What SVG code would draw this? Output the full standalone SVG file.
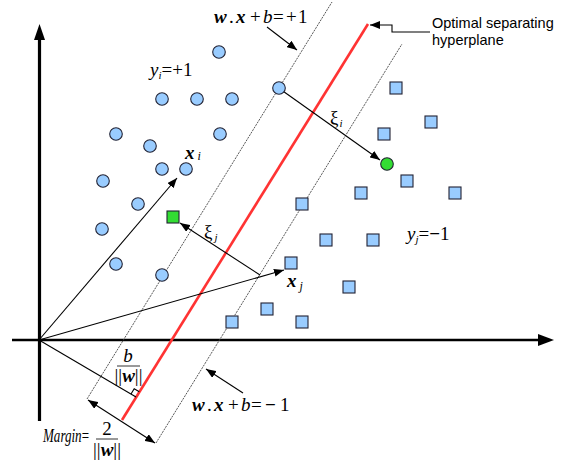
<svg xmlns="http://www.w3.org/2000/svg" width="570" height="461" viewBox="0 0 570 461">
<style>
.pt{fill:#99ccff;stroke:#223;stroke-width:1.1}
.grn{fill:#33dd33;stroke:#223;stroke-width:1.1}
.axis{stroke:#000;fill:none}
.dot{stroke:#444;stroke-width:0.9;stroke-dasharray:2 1;fill:none}
.arr{stroke:#000;stroke-width:1.1;fill:none}
.m{font-family:"Liberation Serif","Times New Roman",serif;font-size:19px;fill:#000}
.s{font-family:"Liberation Sans",Arial,sans-serif;font-size:14.5px;fill:#000}
.bi{font-weight:bold;font-style:italic}
.it{font-style:italic}
</style>
<defs>
<marker id="ah" viewBox="0 0 10 8" refX="10" refY="4" markerWidth="10" markerHeight="8" markerUnits="userSpaceOnUse" orient="auto-start-reverse">
<path d="M0,0 L10,4 L0,8 Z" fill="#000"/>
</marker>
</defs>
<g id="axes">
<line class="axis" x1="12" y1="340" x2="538" y2="340" stroke-width="2.5"/>
<path d="M538,334 L554,340 L538,346 Z" fill="#000"/>
<line class="axis" x1="39.5" y1="421" x2="39.5" y2="39" stroke-width="3.2"/>
<path d="M34,40 L39.5,24 L45,40 Z" fill="#000"/>
</g>
<g id="hyperplanes">
<line class="dot" x1="87" y1="399" x2="332" y2="2"/>
<line class="dot" x1="156" y1="443" x2="402" y2="44"/>
<line x1="122" y1="420" x2="368" y2="24" stroke="#ff3333" stroke-width="2.6"/>
</g>
<g id="connectors">
<line class="arr" x1="39" y1="340" x2="177" y2="178" marker-end="url(#ah)"/>
<line class="arr" x1="39" y1="340" x2="284" y2="270" marker-end="url(#ah)"/>
<line class="arr" x1="39" y1="340" x2="136" y2="397"/>
<polyline class="arr" points="131,394 134.2,388.8 139.3,391.8" stroke-width="1"/>
<line class="arr" x1="88" y1="400" x2="155" y2="443" marker-start="url(#ah)" marker-end="url(#ah)"/>
<line class="arr" x1="280" y1="89" x2="380" y2="160" marker-end="url(#ah)"/>
<line class="arr" x1="260" y1="275" x2="180" y2="223" marker-end="url(#ah)"/>
<line class="arr" x1="267" y1="27" x2="297" y2="50" marker-end="url(#ah)"/>
<line class="arr" x1="243" y1="393" x2="206" y2="369" marker-end="url(#ah)"/>
<polyline class="arr" points="430,32 392,32 392,25 370,25" marker-end="url(#ah)"/>
</g>
<g id="positive">
<circle class="pt" cx="219" cy="52" r="6.3"/>
<circle class="pt" cx="279" cy="88" r="6.3"/>
<circle class="pt" cx="162" cy="99" r="6.3"/>
<circle class="pt" cx="197" cy="99" r="6.3"/>
<circle class="pt" cx="232" cy="99" r="6.3"/>
<circle class="pt" cx="116" cy="134" r="6.3"/>
<circle class="pt" cx="220" cy="134" r="6.3"/>
<circle class="pt" cx="150" cy="146" r="6.3"/>
<circle class="pt" cx="162" cy="169" r="6.3"/>
<circle class="pt" cx="186" cy="169" r="6.3"/>
<circle class="pt" cx="103" cy="181" r="6.3"/>
<circle class="pt" cx="138" cy="204" r="6.3"/>
<circle class="pt" cx="102" cy="229" r="6.3"/>
<circle class="pt" cx="116" cy="264" r="6.3"/>
<circle class="pt" cx="162" cy="275" r="6.3"/>
<circle class="grn" cx="387" cy="164" r="6.3"/>
</g>
<g id="negative">
<rect class="pt" x="390" y="82" width="12" height="12"/>
<rect class="pt" x="425" y="116" width="12" height="12"/>
<rect class="pt" x="378" y="128" width="12" height="12"/>
<rect class="pt" x="401" y="175" width="12" height="12"/>
<rect class="pt" x="355" y="187" width="12" height="12"/>
<rect class="pt" x="449" y="187" width="12" height="12"/>
<rect class="pt" x="296" y="198" width="12" height="12"/>
<rect class="pt" x="320" y="234" width="12" height="12"/>
<rect class="pt" x="367" y="234" width="12" height="12"/>
<rect class="pt" x="285" y="257" width="12" height="12"/>
<rect class="pt" x="343" y="281" width="12" height="12"/>
<rect class="pt" x="261" y="303" width="12" height="12"/>
<rect class="pt" x="226" y="316" width="12" height="12"/>
<rect class="pt" x="296" y="316" width="12" height="12"/>
<rect class="grn" x="167" y="211" width="12" height="12"/>
</g>
<g id="labels">
<text class="m" y="23"><tspan class="bi" x="214">w</tspan><tspan x="229">.</tspan><tspan class="bi" x="236">x</tspan><tspan x="250">+</tspan><tspan class="it" x="263">b</tspan><tspan x="273">=</tspan><tspan x="286">+</tspan><tspan x="298">1</tspan></text>
<text class="m" y="411"><tspan class="bi" x="192">w</tspan><tspan x="207">.</tspan><tspan class="bi" x="214">x</tspan><tspan x="228">+</tspan><tspan class="it" x="241">b</tspan><tspan x="251">=</tspan><tspan font-weight="bold" x="265">−</tspan><tspan x="280">1</tspan></text>
<text class="s" x="432" y="28">Optimal separating</text>
<text class="s" x="432" y="45">hyperplane</text>
<text class="m" x="150" y="76" font-size="18"><tspan class="it">y</tspan><tspan class="it" font-size="11" dy="3">i</tspan><tspan dy="-3">=+1</tspan></text>
<text class="m" x="407" y="240" font-size="18"><tspan class="it">y</tspan><tspan class="it" font-size="11" dy="3">j</tspan><tspan dy="-3">=</tspan><tspan font-weight="bold">−</tspan>1</text>
<text class="m" x="185" y="159" font-size="21"><tspan class="bi">x</tspan><tspan class="it" font-size="12" dx="3" dy="1">i</tspan></text>
<text class="m" x="287" y="287" font-size="21"><tspan class="bi">x</tspan><tspan class="it" font-size="12" dx="3" dy="3">j</tspan></text>
<text class="m" x="330" y="124">ξ<tspan class="it" font-size="11" dx="1" dy="3">i</tspan></text>
<text class="m" x="204" y="238">ξ<tspan class="it" font-size="11" dx="2" dy="3">j</tspan></text>
<text class="m" x="128" y="362" text-anchor="middle" font-size="14"><tspan class="it">b</tspan></text>
<line x1="117" y1="366" x2="140" y2="366" stroke="#000" stroke-width="0.8"/>
<text class="m" x="128.5" y="382" text-anchor="middle" font-size="14">||<tspan class="bi">w</tspan>||</text>
<text class="m" x="43" y="442" font-size="12" textLength="46" lengthAdjust="spacingAndGlyphs"><tspan class="it">Margin</tspan>=</text>
<text class="m" x="107" y="435" text-anchor="middle" font-size="14">2</text>
<line x1="96" y1="439" x2="118" y2="439" stroke="#000" stroke-width="0.8"/>
<text class="m" x="107" y="456" text-anchor="middle" font-size="13">||<tspan class="bi">w</tspan>||</text>
</g>
</svg>
